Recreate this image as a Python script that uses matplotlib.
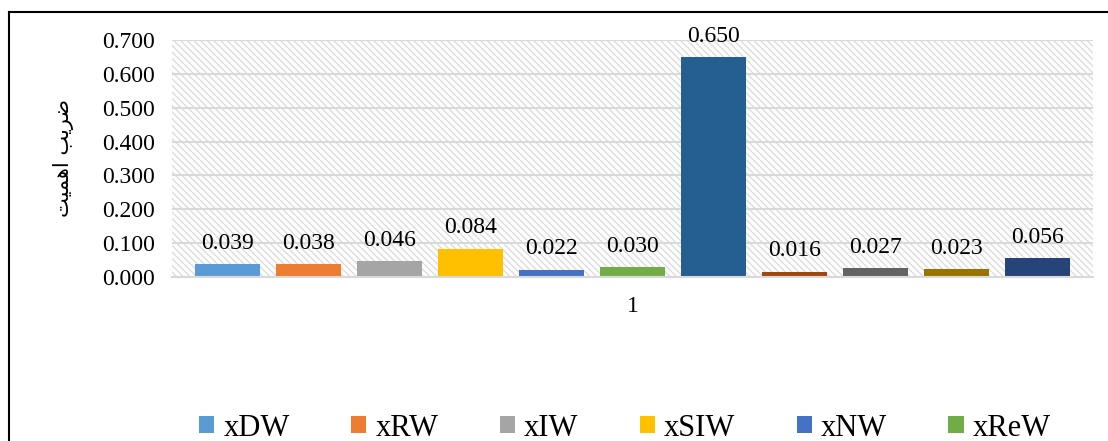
import matplotlib
matplotlib.use('Agg')
import matplotlib.pyplot as plt
from matplotlib.patches import Rectangle, Patch

# data
series = ['xDW', 'xRW', 'xIW', 'xSIW', 'xNW', 'xReW',
          's7', 's8', 's9', 's10', 's11']
values = [0.039, 0.038, 0.046, 0.084, 0.022, 0.030,
          0.650, 0.016, 0.027, 0.023, 0.056]
colors = ['#5B9BD5', '#ED7D31', '#A5A5A5', '#FFC000', '#4472C4', '#70AD47',
          '#255E91', '#9E480E', '#636363', '#997300', '#264478']
legend_names = series[:6]
category = '1'
y_ticks = [0.0, 0.1, 0.2, 0.3, 0.4, 0.5, 0.6, 0.7]
# ضریب اهمیت (shaped glyphs in visual order)
y_label = '\uFE96\uFEF4\uFEE4\uFEEB\uFE8D \uFE90\uFEF3\uFEAE\uFEBF'

plt.rcParams['font.family'] = ['Liberation Serif', 'DejaVu Sans']
plt.rcParams['hatch.linewidth'] = 1.0

fig = plt.figure(figsize=(11.08, 4.41), dpi=100)
ax = fig.add_axes([172 / 1108, 1 - 277 / 441, (1093 - 172) / 1108, (277 - 40) / 441])

# chart border (only left and top visible)
fig.add_artist(plt.Line2D([9 / 1108, 9 / 1108], [0, 1 - 12 / 441], color='black', lw=1.5,
                          transform=fig.transFigure))
fig.add_artist(plt.Line2D([9 / 1108, 1], [1 - 12 / 441, 1 - 12 / 441], color='black', lw=1.5,
                          transform=fig.transFigure))

# hatched plot area
ax.add_patch(Rectangle((0, 0), 1, 1, transform=ax.transAxes, facecolor='white',
                       edgecolor='#DCDCDC', linewidth=0, hatch='\\\\\\\\\\', zorder=0))

xs = list(range(len(values)))
ax.bar(xs, values, width=0.8, color=colors, zorder=3)
for x, v in zip(xs, values):
    ax.annotate(f'{v:.3f}', (x, v), xytext=(0, 11), textcoords='offset points',
                ha='center', va='baseline', fontsize=17)

ax.set_ylim(0, 0.7)
ax.set_xlim(-0.69, 10.69)
ax.set_yticks(y_ticks)
ax.set_yticklabels([f'{t:.3f}' for t in y_ticks], fontsize=17)
ax.set_xticks([5])
ax.set_xticklabels([category], fontsize=17)
ax.tick_params(length=0)
ax.tick_params(axis='x', pad=14)
ax.tick_params(axis='y', pad=12)
ax.grid(axis='y', color='#D9D9D9', lw=1.5, zorder=1)
ax.set_axisbelow(True)
for s in ['left', 'right', 'top']:
    ax.spines[s].set_visible(False)
ax.spines['bottom'].set_color('#D9D9D9')
ax.spines['bottom'].set_linewidth(1.5)
ax.spines['bottom'].set_zorder(4)

fig.text(64 / 1108, 1 - 158 / 441, y_label, rotation=90, ha='center', va='center',
         fontsize=15, family=['DejaVu Sans'])

handles = [Patch(facecolor=c, edgecolor='none', label=n) for n, c in zip(legend_names, colors[:6])]
fig.legend(handles=handles, loc='center', bbox_to_anchor=(625 / 1108, 1 - 428 / 441),
           ncol=6, frameon=False, fontsize=22, handlelength=0.5, handleheight=0.5,
           handletextpad=0.3, columnspacing=2.0)

plt.savefig('out.png', dpi=100)
